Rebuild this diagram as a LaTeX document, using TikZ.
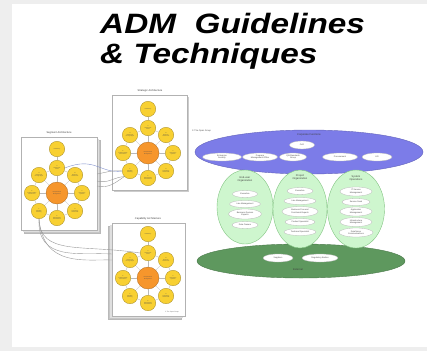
\documentclass[tikz,border=0pt]{standalone}
\usepackage{fontspec}
\setmainfont{Liberation Sans}
\usetikzlibrary{shapes.geometric}
\definecolor{bggray}{RGB}{238,238,238}
\definecolor{corpblue}{RGB}{124,124,232}
\definecolor{paleg}{RGB}{206,246,206}
\definecolor{paleedge}{RGB}{130,196,130}
\definecolor{darkg}{RGB}{94,152,94}
\definecolor{admyel}{RGB}{248,208,50}
\definecolor{admorg}{RGB}{246,150,44}
\definecolor{linkblue}{RGB}{130,145,205}

\tikzset{
  phase/.style={circle, fill=admyel, draw=admyel!65!black, line width=0.3pt,
    minimum size=15.5pt, inner sep=0pt, align=center, text=black!70,
    font=\fontsize{1.3}{1.5}\selectfont},
  hubnode/.style={phase, fill=admorg, draw=admorg!70!black, minimum size=22pt},
  spoke/.style={draw=gray!55, line width=0.3pt},
  pagebox/.style={draw=gray!60, fill=white, line width=0.4pt},
  pageshadow/.style={fill=gray!45, draw=gray!55, line width=0.3pt},
  doctitle/.style={font=\fontsize{2.6}{3}\selectfont, text=black!75, inner sep=0pt},
  link/.style={draw=gray!80, line width=0.4pt},
  orgtitle/.style={font=\fontsize{2.6}{3}\selectfont, text=black!75, align=center, inner sep=0pt},
  role/.style={ellipse, fill=white, draw=gray!55, line width=0.3pt, inner sep=0pt,
    minimum height=8pt, align=center, text=black!70,
    font=\fontsize{2.1}{2.4}\selectfont},
  group/.style={ellipse, fill=paleg, draw=paleedge, line width=0.4pt, inner sep=0pt},
  admwheel/.pic={
    \node[hubnode] (-m) at (0,0) {Requirements\\Management};
    \node[phase] (-p) at (0,-44) {Preliminary};
    \node[phase] (-a) at (0,-25) {A\\Architecture\\Vision};
    \node[phase] (-b) at (18,-18) {B\\Business\\Architecture};
    \node[phase] (-c) at (25,0) {C\\Information\\Systems};
    \node[phase] (-d) at (18,18) {D\\Technology\\Architecture};
    \node[phase] (-e) at (0,25) {E\\Opportunities\\and Solutions};
    \node[phase] (-f) at (-18,18) {F\\Migration\\Planning};
    \node[phase] (-g) at (-25,0) {G\\Implementation\\Governance};
    \node[phase] (-h) at (-18,-18) {H\\Architecture\\Change Mgmt};
    \draw[spoke] (-p) -- (-a);
    \foreach \q in {a,b,c,d,e,f,g,h} \draw[spoke] (-m) -- (-\q);
    \draw[spoke] (-a) -- (-b) -- (-c) -- (-d) -- (-e) -- (-f) -- (-g) -- (-h) -- (-a);
  }
}

\begin{document}
\begin{tikzpicture}[x=1pt,y=-1pt]
\useasboundingbox (0,0) rectangle (427,351);
% frame
\fill[bggray] (0,0) rectangle (427,351);
\fill[white] (12,4) rectangle (427,346.5);

% heading
\node[anchor=base west, inner sep=0pt, xscale=1.19,
      font=\fontsize{28}{28}\selectfont\bfseries\itshape] (head1) at (100,33) {ADM\ \ Guidelines};
\node[anchor=base west, inner sep=0pt, xscale=1.19,
      font=\fontsize{28}{28}\selectfont\bfseries\itshape] (head2) at (100,63) {\&\ Techniques};

% ---------- architecture pages ----------
% segment page
\fill[pageshadow] (24,140) rectangle (100,233);
\fill[gray!25] (22.5,138.5) rectangle (98.5,231.5);
\draw[pagebox] (21,137) rectangle (97,230);
\node[doctitle] (segtitle) at (59,132.5) {Segment Architecture};
% strategic page
\fill[gray!40] (114,97) rectangle (189,192);
\draw[pagebox] (112,95) rectangle (187,190);
\node[doctitle] (strattitle) at (150,91) {Strategic Architecture};
% capability page
\fill[pageshadow] (108,226) rectangle (181,319);
\fill[gray!25] (110,224.5) rectangle (183,317.5);
\draw[pagebox] (112,223) rectangle (185,316);
\node[doctitle] (captitle) at (148,218.5) {Capability Architecture};
\node[font=\fontsize{1.6}{2}\selectfont, text=black!60, inner sep=0pt] (capcopy) at (172,312) {\copyright\ The Open Group};

\pic (seg) at (57,193) {admwheel};
\pic (strat) at (148,153) {admwheel};
\pic (cap) at (148,278) {admwheel};

% links between pages
\coordinate (sr1) at (97,174);
\coordinate (sr2) at (97,181);
\coordinate (sr3) at (97,186);
\coordinate (cl1) at (112,254);
\coordinate (cl2) at (112,260);
\draw[link, draw=linkblue] (seg-a.east) .. controls (95,156) and (100,174) .. (strat-f.west);
\draw[link] (sr1) .. controls (108,172) and (112,170) .. (strat-f.west);
\draw[link] (sr2) .. controls (108,184) and (114,177) .. (strat-f.south west);
\draw[link] (sr3) .. controls (110,189) and (117,181) .. (strat-f.south west);
\draw[link] (seg-f.south) .. controls (40,256) and (82,244) .. (cap-a.west);
\draw[link] (seg-f.south) .. controls (37,262) and (80,252) .. (cl1);
\draw[link] (seg-f.south) .. controls (43,268) and (86,259) .. (cl2);

% ---------- stakeholder groups ----------
\node[font=\fontsize{2.2}{2.5}\selectfont, text=black!70, anchor=west, inner sep=0pt] (ogcopy) at (192,131) {\copyright\ The Open Group};

\node[ellipse, fill=corpblue, draw=corpblue!80!black, line width=0.4pt, inner sep=0pt,
      minimum width=228pt, minimum height=44pt] (corp) at (309,152) {};
\node[ellipse, fill=darkg, draw=darkg!80!black, line width=0.4pt, inner sep=0pt,
      minimum width=208pt, minimum height=34pt] (ext) at (301,261) {};
\node[group, minimum width=56pt, minimum height=74pt] (enduser) at (245,207) {};
\node[group, minimum width=54pt, minimum height=78pt] (project) at (300,209) {};
\node[group, minimum width=57pt, minimum height=78pt] (sysops) at (356,209) {};

% corporate functions
\node[orgtitle] (corptitle) at (309,135) {Corporate Functions};
\node[role, minimum width=25pt] (cxo) at (302,145) {CxO};
\node[role, minimum width=39pt] (esec) at (222,157) {Enterprise\\Security};
\node[role, minimum width=35pt] (pmo) at (260,157) {Program\\Management Office};
\node[role, minimum width=27pt] (qa) at (293,157) {QA/Standards\\Group};
\node[role, minimum width=35pt] (proc) at (340,157) {Procurement};
\node[role, minimum width=30pt] (hr) at (377,157) {HR};

% end-user organization
\node[orgtitle] (eutitle) at (245,179) {End-user\\Organization};
\node[role, minimum width=25pt, minimum height=7pt] (euexec) at (245,194) {Executive};
\node[role, minimum width=31pt, minimum height=7pt] (eulm) at (245,204) {Line Management};
\node[role, minimum width=33pt, minimum height=10pt] (eubde) at (245,214) {Business Domain\\Experts};
\node[role, minimum width=26pt, minimum height=7pt] (eudo) at (245,225) {Data Owners};

% project organization
\node[orgtitle] (prtitle) at (300,177.5) {Project\\Organization};
\node[role, minimum width=26pt, minimum height=7pt] (prexec) at (300,191) {Executive};
\node[role, minimum width=32pt, minimum height=7pt] (prlm) at (300,201) {Line Management};
\node[role, minimum width=36pt, minimum height=10pt] (prbpf) at (300,211.5) {Business Process/\\Functional Experts};
\node[role, minimum width=30pt, minimum height=7pt] (prps) at (300,222) {Product Specialist};
\node[role, minimum width=32pt, minimum height=7pt] (prts) at (300,232) {Technical Specialist};

% system operations
\node[orgtitle] (sotitle) at (356,178) {System\\Operations};
\node[role, minimum width=32pt, minimum height=9pt] (soitsm) at (356,191.5) {IT Service\\Management};
\node[role, minimum width=28pt, minimum height=7pt] (sosd) at (356,202) {Service Desk};
\node[role, minimum width=32pt, minimum height=9pt] (soam) at (356,211.5) {Application\\Management};
\node[role, minimum width=32pt, minimum height=9pt] (soim) at (356,222) {Infrastructure\\Management};
\node[role, minimum width=34pt, minimum height=9pt] (sodv) at (356,232.5) {Data/Voice\\Communications};

% outside the enterprise
\node[role, minimum width=30pt] (supp) at (278,258) {Suppliers};
\node[role, minimum width=36pt] (reg) at (320,258) {Regulatory Bodies};
\node[orgtitle] (exttitle) at (298,270) {External};
\end{tikzpicture}
\end{document}
